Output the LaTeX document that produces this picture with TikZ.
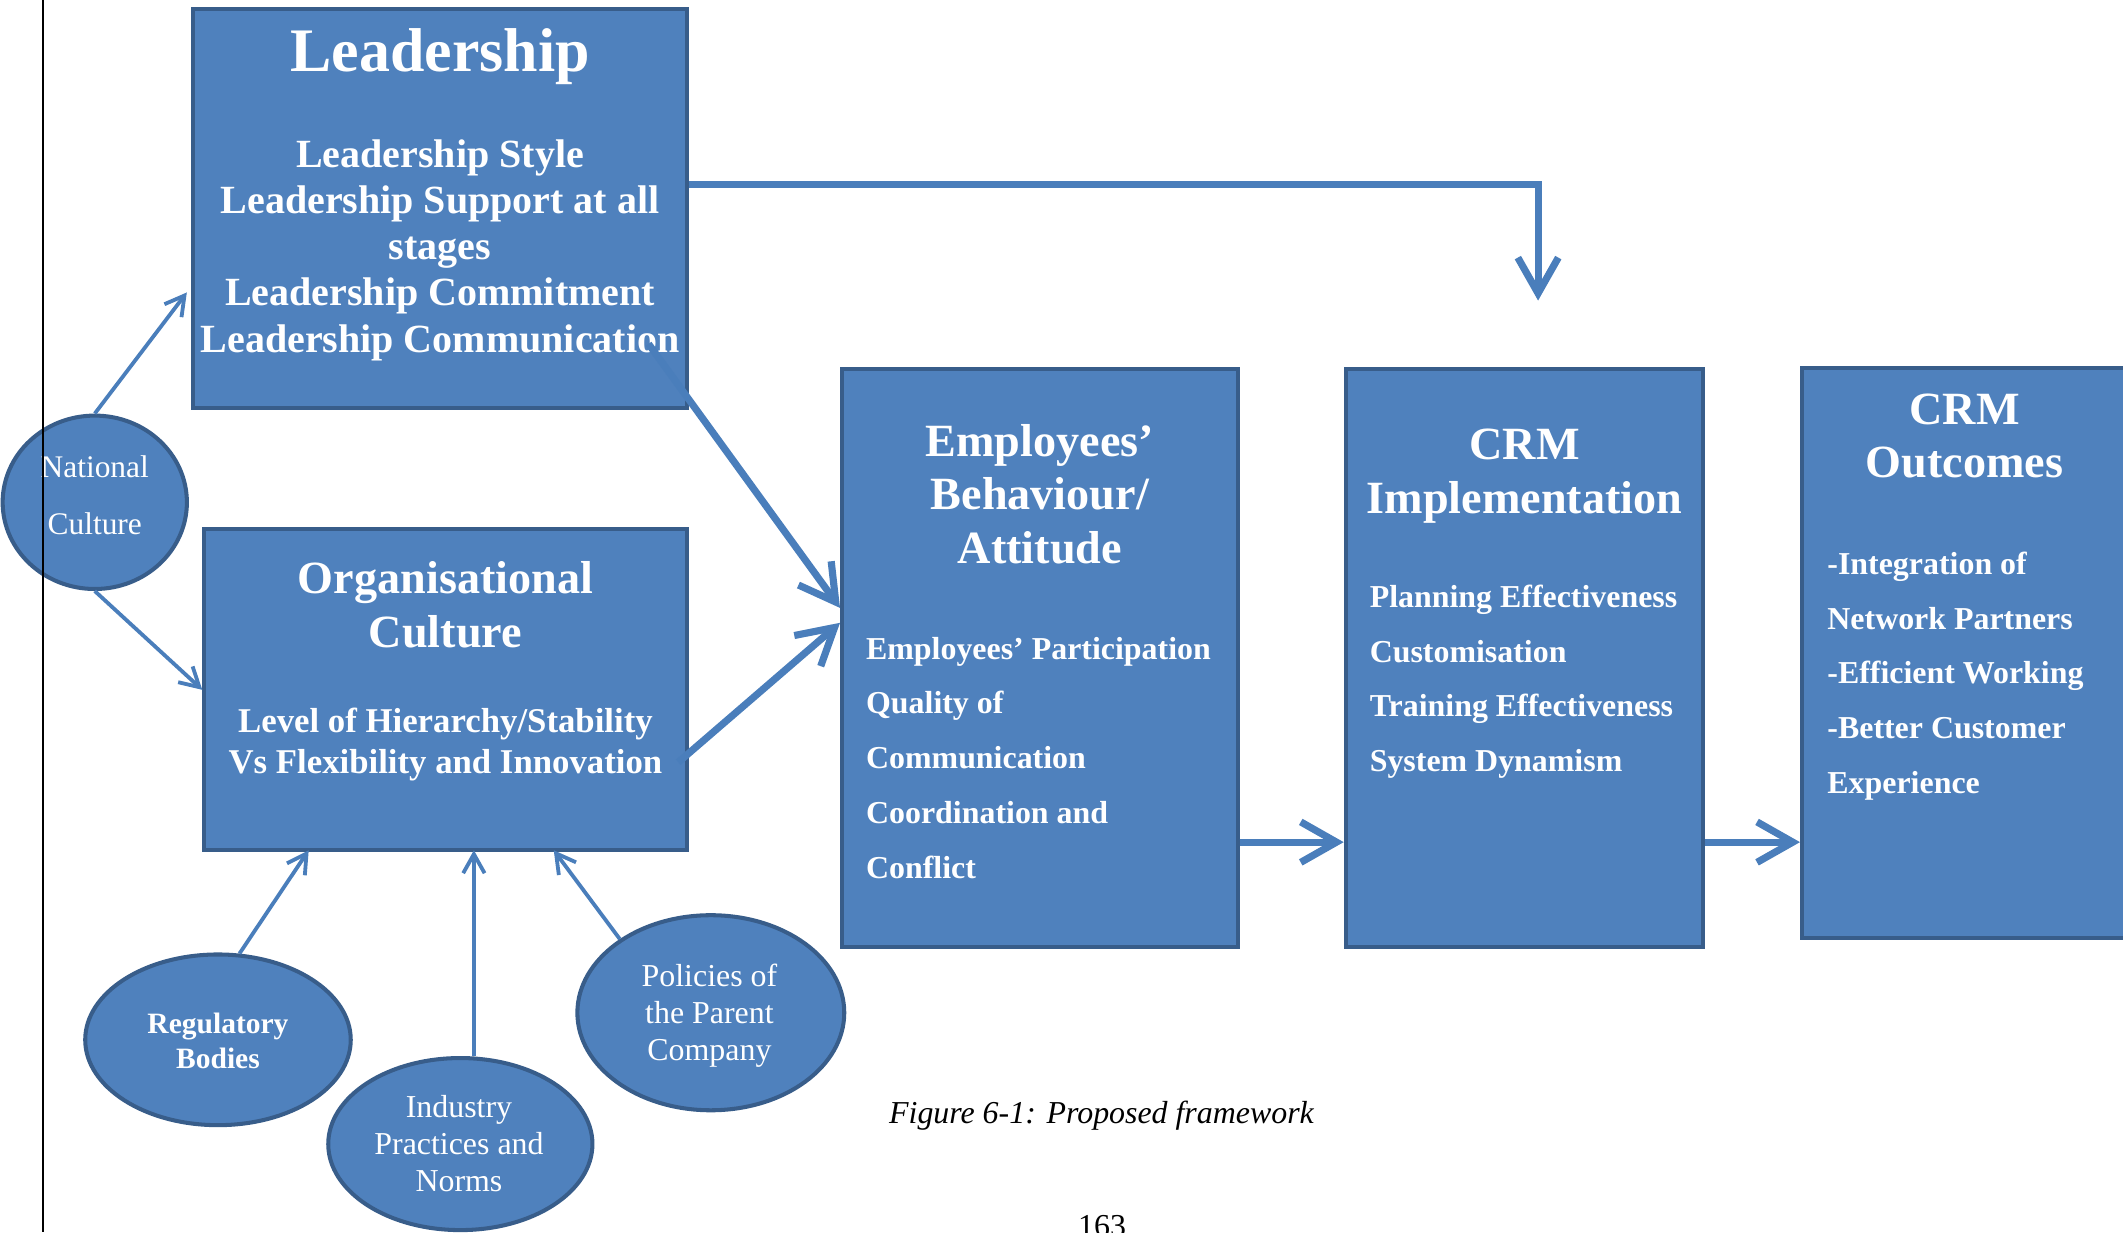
\documentclass[tikz,border=0pt]{standalone}
\usepackage{fontspec}
\setmainfont{Liberation Serif}
\usetikzlibrary{shapes.geometric,arrows.meta}
\definecolor{boxfill}{HTML}{4F81BD}
\definecolor{boxline}{HTML}{385D8A}
\definecolor{arrowline}{HTML}{4A7EBB}

\begin{document}
\begin{tikzpicture}[x=0.01cm, y=-0.01cm,
    box/.style={rectangle, draw=boxline, fill=boxfill, line width=0.85pt},
    blob/.style={ellipse, draw=boxline, fill=boxfill, line width=0.85pt, inner sep=0},
    thinarrow/.style={draw=arrowline, line width=0.8pt, -{Straight Barb[length=4pt,width=4.5pt]}},
    thickarrow/.style={draw=arrowline, line width=1.5pt, -{Straight Barb[length=7.5pt,width=8.5pt]}},
    title/.style={font=\bfseries\fontsize{9.7}{11.2}\selectfont, align=center},
    body/.style={font=\bfseries\fontsize{6.7}{11.5}\selectfont, align=left, anchor=base west}]

      \useasboundingbox (0,0) rectangle (1568,910);

      \begin{scope}[every node/.style={box}]
        \node (lead) at (325,154)      [minimum width=3.64cm, minimum height=2.94cm] {};
        \node (org)  at (329,509.5)    [minimum width=3.56cm, minimum height=2.37cm] {};
        \node (emp)  at (768,486)      [minimum width=2.92cm, minimum height=4.26cm] {};
        \node (impl) at (1126,486)     [minimum width=2.64cm, minimum height=4.26cm] {};
        \node (outc) at (1455.5,482.5) [minimum width=2.49cm, minimum height=4.21cm] {};
      \end{scope}

      \begin{scope}[every node/.style={blob}]
        \node (nat) at (70,371)  [minimum width=1.36cm, minimum height=1.28cm] {};
        \node (reg) at (161,768) [minimum width=1.96cm, minimum height=1.26cm] {};
        \node (ind) at (340,845) [minimum width=1.95cm, minimum height=1.27cm] {};
        \node (pol) at (525,748) [minimum width=1.97cm, minimum height=1.44cm] {};
      \end{scope}

      % text blocks sit on the baseline of their last line
      \begin{scope}[every node/.style={text=white, inner sep=0, anchor=base}]
        \node (leadT) at (325,53)  [font=\bfseries\fontsize{13}{15}\selectfont] {Leadership};
        \node (leadB) at (325,260) [font=\bfseries\fontsize{8.4}{9.67}\selectfont, align=center]
          {Leadership Style\\Leadership Support at all\\stages\\Leadership Commitment\\Leadership Communication};
        \node (orgT) at (329,478) [title] {Organisational\\Culture};
        \node (orgB) at (329,571) [font=\bfseries\fontsize{7.3}{8.5}\selectfont, align=center]
          {Level of Hierarchy/Stability\\Vs Flexibility and Innovation};
        \node (empT)  at (768,416)   [title] {Employees’\\Behaviour/\\Attitude};
        \node (empB)  at (639,648.5) [body] {Employees’ Participation\\Quality of\\Communication\\Coordination and\\Conflict};
        \node (implT) at (1126,379)  [title] {CRM\\Implementation};
        \node (implB) at (1011,570)  [body] {Planning Effectiveness\\Customisation\\Training Effectiveness\\System Dynamism};
        \node (outcT) at (1451,353)  [title] {CRM\\Outcomes};
        \node (outcB) at (1349,586)  [body] {-Integration of\\Network Partners\\-Efficient Working\\-Better Customer\\Experience};

        \node (natT) at (70,395)  [font=\fontsize{6.6}{11.95}\selectfont, align=center] {National\\Culture};
        \node (regT) at (161,789) [font=\bfseries\fontsize{6.2}{7.4}\selectfont, align=center] {Regulatory\\Bodies};
        \node (indT) at (339,880) [font=\fontsize{6.7}{7.8}\selectfont, align=center] {Industry\\Practices and\\Norms};
        \node (polT) at (524,783) [font=\fontsize{6.7}{7.7}\selectfont, align=center] {Policies of\\the Parent\\Company};
      \end{scope}

      \coordinate (natIn)    at (138,216);
      \coordinate (regIn)    at (228,628);
      \coordinate (indIn)    at (350,628);
      \coordinate (polIn)    at (409,628);
      \coordinate (leadOut)  at (479,254);
      \coordinate (orgOut)   at (501,563);
      \coordinate (leadTurn) at (1136,136);
      \coordinate (implIn)   at (1136,222);

      \path (nat.north)          edge[thinarrow] (natIn);
      \path (nat.south)          edge[thinarrow] (org.west);
      \path (reg.76)             edge[thinarrow] (regIn);
      \path (ind.north -| indIn) edge[thinarrow] (indIn);
      \path (pol.141)            edge[thinarrow] (polIn);

      \draw[thickarrow] (lead.east |- leadTurn) -| (implIn);
      \path (leadOut)            edge[thickarrow] (emp.west |- 0,449);
      \path (orgOut)             edge[thickarrow] (emp.west |- 0,460);
      \path (emp.east |- 0,622)  edge[thickarrow] (impl.west |- 0,622);
      \path (impl.east |- 0,622) edge[thickarrow] (outc.west |- 0,622);

      \node (cap)  at (656,830) [anchor=base west, inner sep=0, font=\itshape\fontsize{6.7}{8}\selectfont]
        {Figure 6-1: Proposed framework};
      \node (page) at (814,913) [anchor=base, inner sep=0, font=\fontsize{6.7}{8}\selectfont] {163};

      \draw[line width=0.43pt] (32,0) -- (32,910);

    \end{tikzpicture}
\end{document}
